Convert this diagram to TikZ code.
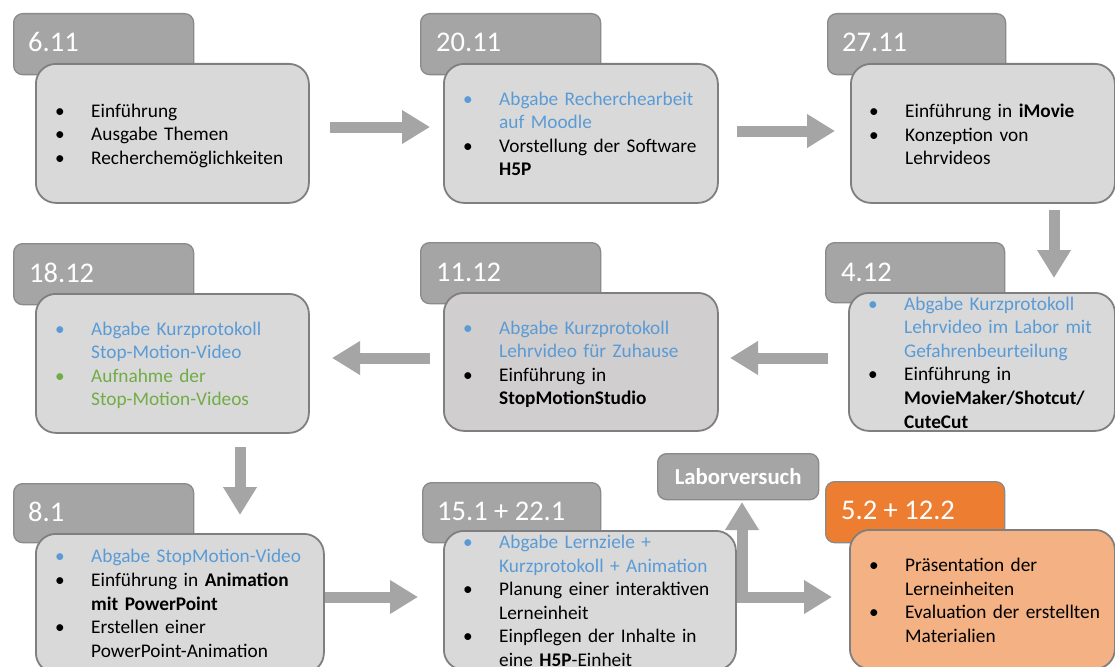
\documentclass[tikz,border=0pt]{standalone}
\usepackage{fontspec}
\setmainfont{Carlito}
\usetikzlibrary{arrows.meta}
\definecolor{tabfill}{HTML}{A5A5A5}
\definecolor{tabline}{HTML}{8A8A8A}
\definecolor{bodyfill}{HTML}{D9D9D9}
\definecolor{bodyfillB}{HTML}{D0CECE}
\definecolor{bodyline}{HTML}{7F7F7F}
\definecolor{arrgray}{HTML}{A5A5A5}
\definecolor{blueT}{HTML}{5B9BD5}
\definecolor{greenT}{HTML}{70AD47}
\definecolor{orangeT}{HTML}{ED7D31}
\definecolor{orangeB}{HTML}{F4B183}
\newcommand\bitem[2]{\noindent\hangindent=36pt\hangafter=1\makebox[36pt][l]{\textcolor{#1}{\textbullet}}\textcolor{#1}{#2}\par}
\begin{document}
\begin{tikzpicture}[x=1pt,y=-1pt,
  tab/.style={draw=tabline, fill=tabfill, line width=1.3pt, rounded corners=9pt, anchor=north west, inner sep=0pt, minimum height=61pt, minimum width=180pt},
  body/.style={draw=bodyline, fill=bodyfill, line width=1.8pt, rounded corners=20pt, anchor=north west, inner sep=0pt, minimum height=139pt},
  datelbl/.style={anchor=base west, text=white, font=\fontsize{28.5}{34}\selectfont, inner sep=0pt},
  txt/.style={anchor=west, inner sep=0pt, text width=270pt, align=left, font=\fontsize{19.3}{23.6}\selectfont},
  arr/.style={draw=arrgray, line width=11pt, -{Triangle[width=32pt,length=28pt]}}]
\path[use as bounding box] (0,0) rectangle (1115,666);
\clip (0,0) rectangle (1115,666);
\fill[white] (0,0) rectangle (1115,666);

% arrows
\coordinate (a1s) at (330,127); \coordinate (a1e) at (430,127);
\coordinate (a2s) at (737,131); \coordinate (a2e) at (835,131);
\coordinate (a3s) at (1054,210); \coordinate (a3e) at (1054,278);
\coordinate (a4s) at (430,358); \coordinate (a4e) at (332,358);
\coordinate (a5s) at (828,358); \coordinate (a5e) at (730,358);
\coordinate (a6s) at (240,447); \coordinate (a6e) at (240,515);
\coordinate (a7s) at (318,597); \coordinate (a7e) at (418,597);
\coordinate (a8s) at (730,597); \coordinate (a8e) at (832,597);
\coordinate (a8b) at (742,602.5); \coordinate (a8u) at (742,502);
\draw[arr] (a1s) -- (a1e);
\draw[arr] (a2s) -- (a2e);
\draw[arr] (a3s) -- (a3e);
\draw[arr] (a4s) -- (a4e);
\draw[arr] (a5s) -- (a5e);
\draw[arr] (a6s) -- (a6e);
\draw[arr] (a7s) -- (a7e);
\draw[arr] (a8s) -- (a8e);
\draw[arr] (a8b) -- (a8u);

% Box 1
\node[tab] (t1) at (13,13) {};
\node[datelbl] (d1) at (28,52) {6.11};
\node[body, minimum width=273pt] (b1) at (35,63) {};
\node[txt] (x1) at ([xshift=20pt,yshift=-2.5pt]b1.west) {%
\bitem{black}{Einführung}
\bitem{black}{Ausgabe Themen}
\bitem{black}{Recherchemöglichkeiten}};

% Box 2
\node[tab] (t2) at (420,13) {};
\node[datelbl] (d2) at (436,52) {20.11};
\node[body, minimum width=274pt] (b2) at (443,63) {};
\node[txt] (x2) at ([xshift=20pt,yshift=-0.5pt]b2.west) {%
\bitem{blueT}{Abgabe Recherchearbeit\newline auf Moodle}
\bitem{black}{Vorstellung der Software\newline \textbf{H5P}}};

% Box 3
\node[tab, minimum width=178pt] (t3) at (827,13) {};
\node[datelbl] (d3) at (842,52) {27.11};
\node[body, minimum width=264pt] (b3) at (850,63) {};
\node[txt] (x3) at ([xshift=19pt,yshift=-1pt]b3.west) {%
\bitem{black}{Einführung in \textbf{iMovie}}
\bitem{black}{Konzeption von\newline Lehrvideos}};

% Box 4
\node[tab] (t4) at (13,243) {};
\node[datelbl] (d4) at (29,282) {18.12};
\node[body, minimum width=273pt] (b4) at (35,293) {};
\node[txt] (x4) at ([xshift=20pt,yshift=-2pt]b4.west) {%
\bitem{blueT}{Abgabe Kurzprotokoll\newline Stop-Motion-Video}
\bitem{greenT}{Aufnahme der\newline Stop-Motion-Videos}};

% Box 5
\node[tab] (t5) at (420,242) {};
\node[datelbl] (d5) at (436,281) {11.12};
\node[body, fill=bodyfillB, minimum width=274pt, minimum height=138pt] (b5) at (443,292) {};
\node[txt] (x5) at ([xshift=20pt,yshift=-2.5pt]b5.west) {%
\bitem{blueT}{Abgabe Kurzprotokoll\newline Lehrvideo für Zuhause}
\bitem{black}{Einführung in\newline \textbf{StopMotionStudio}}};

% Box 6
\node[tab, minimum width=179pt, minimum height=60pt] (t6) at (825,242) {};
\node[datelbl] (d6) at (841,281) {4.12};
\node[body, minimum width=266pt, minimum height=138pt] (b6) at (848,292) {};
\node[txt] (x6) at ([xshift=20pt,yshift=-0.5pt]b6.west) {%
\bitem{blueT}{Abgabe Kurzprotokoll\newline Lehrvideo im Labor mit\newline Gefahrenbeurteilung}
\bitem{black}{Einführung in\newline \textbf{MovieMaker/Shotcut/}\newline \textbf{CuteCut}}};

% Box 7
\node[tab, minimum height=59pt] (t7) at (13,483) {};
\node[datelbl] (d7) at (28,521) {8.1};
\node[body, minimum width=288pt] (b7) at (35,533) {};
\node[txt] (x7) at ([xshift=20pt]b7.west) {%
\bitem{blueT}{Abgabe StopMotion-Video}
\bitem{black}{Einführung in \textbf{Animation}\newline \textbf{mit PowerPoint}}
\bitem{black}{Erstellen einer\newline PowerPoint-Animation}};

% Laborversuch
\node[tab, minimum width=161pt, minimum height=46pt, text=white, font=\bfseries\fontsize{22.8}{26}\selectfont] (lab) at (657,453) {Laborversuch};

% Box 8
\node[tab, minimum width=178pt, minimum height=60pt] (t8) at (422,482) {};
\node[datelbl] (d8) at (437,520) {15.1 + 22.1};
\node[body, minimum width=292pt] (b8) at (443,530) {};
\node[txt] (x8) at ([xshift=20pt,yshift=-0.5pt]b8.west) {%
\bitem{blueT}{Abgabe Lernziele +\newline Kurzprotokoll + Animation}
\bitem{black}{Planung einer interaktiven\newline Lerneinheit}
\bitem{black}{Einpflegen der Inhalte in\newline eine \textbf{H5P}-Einheit}};

% Box 9
\node[tab, fill=orangeT, minimum width=179pt] (t9) at (825,481) {};
\node[datelbl] (d9) at (841,519) {5.2 + 12.2};
\node[body, fill=orangeB, minimum width=265pt] (b9) at (849,529) {};
\node[txt] (x9) at ([xshift=20pt,yshift=-1pt]b9.west) {%
\bitem{black}{Präsentation der\newline Lerneinheiten}
\bitem{black}{Evaluation der erstellten\newline Materialien}};
\end{tikzpicture}
\end{document}
